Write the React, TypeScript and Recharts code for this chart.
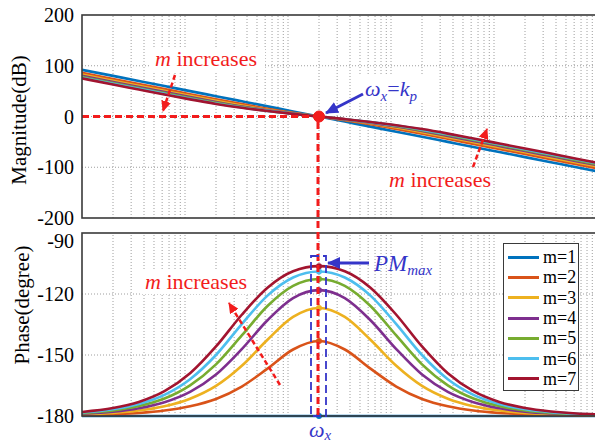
import React from 'react';
import { LineChart, Line, XAxis, YAxis, ReferenceLine, ReferenceDot, Legend } from 'recharts';

// frequency samples (rad/s), omega_x = 200
const freq = [1, 2, 3.56, 6.32, 11.2, 20, 35.6, 63.2, 112, 200, 356, 632, 1125, 2000, 3560, 6320, 11250, 20000, 35600, 63200, 100000];
const omegaX = 200;

const seriesNames = ['m=1', 'm=2', 'm=3', 'm=4', 'm=5', 'm=6', 'm=7'];
const seriesColors = ['#0072BD', '#D95319', '#EDB120', '#7E2F8E', '#77AC30', '#4DBEEE', '#A2142F'];

// magnitude (dB)
const magM1 = [92.0, 80.0, 70.0, 60.0, 50.0, 40.0, 30.0, 20.0, 10.0, 0, -10.0, -20.0, -30.0, -40.0, -50.0, -60.0, -70.0, -80.0, -90.0, -100.0, -108.0];
const magM2 = [86.0, 74.0, 64.0, 54.0, 44.0, 34.1, 24.5, 15.3, 7.2, 0, -7.2, -15.3, -24.5, -34.1, -44.0, -54.0, -64.0, -74.0, -84.0, -94.0, -101.9];
const magM3 = [82.5, 70.5, 60.5, 50.5, 40.6, 30.8, 21.5, 13.2, 6.2, 0, -6.2, -13.2, -21.5, -30.8, -40.6, -50.5, -60.5, -70.5, -80.5, -90.5, -98.4];
const magM4 = [80.0, 68.0, 58.0, 48.0, 38.2, 28.6, 19.7, 12.1, 5.7, 0, -5.7, -12.1, -19.7, -28.6, -38.2, -48.0, -58.0, -68.0, -78.0, -88.0, -95.9];
const magM5 = [78.1, 66.0, 56.1, 46.1, 36.4, 27.0, 18.5, 11.4, 5.5, 0, -5.5, -11.4, -18.5, -27.0, -36.4, -46.1, -56.1, -66.0, -76.0, -86.0, -94.0];
const magM6 = [76.5, 64.5, 54.5, 44.6, 34.9, 25.8, 17.7, 11.1, 5.3, 0, -5.3, -11.1, -17.7, -25.8, -34.9, -44.6, -54.5, -64.5, -74.4, -84.4, -92.4];
const magM7 = [75.1, 63.1, 53.2, 43.3, 33.7, 24.8, 17.2, 10.8, 5.2, 0, -5.2, -10.8, -17.2, -24.8, -33.7, -43.3, -53.2, -63.1, -73.1, -83.1, -91.1];

// phase (degree)
const phM1 = [-180, -180, -180, -180, -180, -180, -180, -180, -180, -180, -180, -180, -180, -180, -180, -180, -180, -180, -180, -180, -180];
const phM2 = [-179.6, -179.1, -178.5, -177.3, -175.2, -171.6, -165.5, -156.7, -147.3, -143.1, -147.3, -156.7, -165.5, -171.6, -175.2, -177.3, -178.5, -179.1, -179.5, -179.7, -179.8];
const phM3 = [-179.2, -178.5, -177.3, -175.2, -171.5, -165.2, -155.3, -142.5, -131.3, -126.9, -131.3, -142.5, -155.3, -165.2, -171.5, -175.2, -177.3, -178.5, -179.1, -179.5, -179.7];
const phM4 = [-178.9, -177.9, -176.2, -173.2, -168.1, -159.6, -147.1, -132.9, -122.0, -118.1, -122.0, -132.9, -147.1, -159.6, -168.1, -173.2, -176.2, -177.9, -178.8, -179.3, -179.6];
const phM5 = [-178.6, -177.3, -175.1, -171.4, -164.9, -154.6, -140.4, -125.9, -116.0, -112.6, -116.0, -125.9, -140.4, -154.6, -164.9, -171.4, -175.1, -177.3, -178.5, -179.1, -179.5];
const phM6 = [-178.3, -176.7, -174.1, -169.6, -161.9, -150.0, -134.8, -120.8, -111.9, -108.9, -111.9, -120.8, -134.8, -150.0, -161.9, -169.6, -174.1, -176.7, -178.1, -178.9, -179.3];
const phM7 = [-178.0, -176.1, -173.1, -167.8, -159.0, -145.8, -130.2, -116.9, -108.8, -106.3, -108.8, -116.9, -130.2, -145.8, -159.0, -167.8, -173.1, -176.1, -177.8, -178.8, -179.2];

const magTicks = [-200, -100, 0, 100, 200];
const phaseTicks = [-180, -150, -120, -90];

const magSeries = [magM1, magM2, magM3, magM4, magM5, magM6, magM7];
const phaseSeries = [phM1, phM2, phM3, phM4, phM5, phM6, phM7];

// log grid: 1..9 in every decade
const logTicks: number[] = [];
for (const d of [1, 10, 100, 1000, 10000]) for (let k = 1; k < 10; k++) logTicks.push(d * k);
logTicks.push(100000);
const gridX = logTicks.filter((t) => t > 1 && t < 100000);

const buildRows = (series: number[][]) =>
  freq.map((f, i) => {
    const row: Record<string, number> = { freq: f };
    series.forEach((s, j) => { row[`m${j + 1}`] = s[i]; });
    return row;
  });

const magData = buildRows(magSeries);
const phaseData = buildRows(phaseSeries);

const SERIF = '"Liberation Serif", "Times New Roman", serif';
const RED = '#f21c1c';
const BLUE = '#3535c8';
const FRAME = '#3a3a3a';
const GRID = '#9e9e9e';

const YTick = (props: any) => {
  const v = props.payload.value;
  return (
    <text x={props.x} y={props.y} dy={v === -90 ? 15 : 7} textAnchor="end" fontFamily={SERIF} fontSize={20} fill="#000">
      {v}
    </text>
  );
};

const renderLegend = (props: any) => {
  const items = props.payload || [];
  return (
    <div style={{ width: 76, height: 148, boxSizing: 'border-box', border: `1.5px solid ${FRAME}`, background: '#fff', padding: '3px 0 0 4px' }}>
      {items.map((it: any) => (
        <div key={it.value} style={{ display: 'flex', alignItems: 'center', height: 20.3 }}>
          <span style={{ display: 'inline-block', width: 31, height: 3, background: it.color, marginRight: 4 }} />
          <span style={{ fontFamily: SERIF, fontSize: 18, color: '#000', lineHeight: '20px' }}>{it.value}</span>
        </div>
      ))}
    </div>
  );
};

const Arrow = ({ x1, y1, x2, y2, color, dashed, width, marker }: any) => (
  <line x1={x1} y1={y1} x2={x2} y2={y2} stroke={color} strokeWidth={width} strokeDasharray={dashed ? '5 3' : undefined} markerEnd={`url(#${marker})`} />
);

const Overlay = () => (
  <svg width={595} height={443} style={{ position: 'absolute', left: 0, top: 0, pointerEvents: 'none' }} fontFamily={SERIF}>
    <defs>
      <marker id="headRed" markerUnits="userSpaceOnUse" markerWidth={12} markerHeight={10} refX={10} refY={5} orient="auto">
        <path d="M0,0 L11,5 L0,10 Z" fill={RED} />
      </marker>
      <marker id="headBlue" markerUnits="userSpaceOnUse" markerWidth={14} markerHeight={12} refX={12} refY={6} orient="auto">
        <path d="M0,0 L13,6 L0,12 Z" fill={BLUE} />
      </marker>
    </defs>

    {/* plot frames */}
    <rect x={82} y={15} width={515} height={203} fill="none" stroke={FRAME} strokeWidth={1.6} />
    <rect x={82} y={233} width={515} height={183} fill="none" stroke={FRAME} strokeWidth={1.6} />

    {/* axis titles */}
    <text transform="translate(26,120) rotate(-90)" textAnchor="middle" fontSize={21} fill="#000">Magnitude(dB)</text>
    <text transform="translate(29,305) rotate(-90)" textAnchor="middle" fontSize={21} fill="#000">Phase(degree)</text>

    {/* omega_x marker line through both panels */}
    <line x1={318} y1={122} x2={318} y2={416} stroke={RED} strokeWidth={3} strokeDasharray="7 4" />

    {/* top left: m increases */}
    <rect x={150} y={48} width={115} height={24} fill="#fff" />
    <text x={155} y={66} fontSize={22} fill={RED}>
      <tspan fontStyle="italic">m</tspan> increases
    </text>
    <Arrow x1={175} y1={75} x2={163} y2={111} color={RED} dashed width={2.5} marker="headRed" />

    {/* omega_x = k_p */}
    <rect x={358} y={74} width={66} height={28} fill="#fff" />
    <text x={365} y={96} fontSize={22} fill={BLUE}>
      <tspan fontStyle="italic">ω</tspan>
      <tspan fontStyle="italic" fontSize={15} dy={5}>x</tspan>
      <tspan dy={-5}>=</tspan>
      <tspan fontStyle="italic">k</tspan>
      <tspan fontStyle="italic" fontSize={15} dy={5}>p</tspan>
    </text>
    <Arrow x1={363} y1={94} x2={326} y2={113} color={BLUE} width={3} marker="headBlue" />

    {/* top right: m increases */}
    <rect x={359} y={168} width={134} height={22} fill="#fff" />
    <text x={389} y={187} fontSize={22} fill={RED}>
      <tspan fontStyle="italic">m</tspan> increases
    </text>
    <Arrow x1={473} y1={167} x2={487} y2={129} color={RED} dashed width={2.5} marker="headRed" />

    {/* bottom left: m increases */}
    <rect x={140} y={271} width={115} height={23} fill="#fff" />
    <text x={145} y={289} fontSize={22} fill={RED}>
      <tspan fontStyle="italic">m</tspan> increases
    </text>
    <Arrow x1={280} y1={385} x2={229} y2={303} color={RED} dashed width={2.5} marker="headRed" />

    {/* PM max */}
    <rect x={311} y={256} width={15} height={160} fill="none" stroke={BLUE} strokeWidth={1.8} strokeDasharray="8 4" />
    <Arrow x1={369} y1={263} x2={328} y2={263} color={BLUE} width={3} marker="headBlue" />
    <text x={374} y={271} fontSize={23} fill={BLUE} fontStyle="italic">
      PM<tspan fontSize={15} dy={4}>max</tspan>
    </text>

    {/* omega_x label under axis */}
    <text x={309} y={437} fontSize={22} fill={BLUE} fontStyle="italic">
      ω<tspan fontSize={15} dy={3}>x</tspan>
    </text>
  </svg>
);

const gridLines = (yTicks: number[]) => [
  ...gridX.map((t) => <ReferenceLine key={`gx${t}`} x={t} stroke={GRID} strokeWidth={1} strokeDasharray="1 2" />),
  ...yTicks.slice(1, -1).map((t) => <ReferenceLine key={`gy${t}`} y={t} stroke={GRID} strokeWidth={1} strokeDasharray="1 2" />),
];

export default function App() {
  return (
    <div style={{ position: 'absolute', left: 0, top: 0, width: 595, height: 443, background: '#fff', overflow: 'hidden' }}>
      <div style={{ position: 'absolute', left: 0, top: 0 }}>
        <LineChart width={597} height={232} data={magData} margin={{ top: 15, right: 0, bottom: 0, left: 0 }}>
          <XAxis dataKey="freq" type="number" scale="log" domain={[1, 100000]} ticks={logTicks} interval={0} tick={false} tickLine={false} axisLine={false} height={14} allowDataOverflow />
          <YAxis type="number" domain={[-200, 200]} ticks={magTicks} interval={0} width={82} tick={<YTick />} tickLine={false} axisLine={false} allowDataOverflow />
          {gridLines(magTicks)}
          {seriesNames.map((n, j) => (
            <Line key={n} dataKey={`m${j + 1}`} name={n} type="monotone" stroke={seriesColors[j]} strokeWidth={2.6} dot={false} isAnimationActive={false} />
          ))}
          <ReferenceLine segment={[{ x: 1, y: 0 }, { x: omegaX, y: 0 }]} stroke={RED} strokeWidth={3} strokeDasharray="7 4" />
          <ReferenceDot x={omegaX} y={0} r={5.5} fill={RED} stroke={RED} />
        </LineChart>
      </div>
      <div style={{ position: 'absolute', left: 0, top: 225 }}>
        <LineChart width={597} height={210} data={phaseData} margin={{ top: 8, right: 0, bottom: 0, left: 0 }}>
          <XAxis dataKey="freq" type="number" scale="log" domain={[1, 100000]} ticks={logTicks} interval={0} tick={false} tickLine={false} axisLine={false} height={19} allowDataOverflow />
          <YAxis type="number" domain={[-180, -90]} ticks={phaseTicks} interval={0} width={82} tick={<YTick />} tickLine={false} axisLine={false} />
          {gridLines(phaseTicks)}
          {seriesNames.map((n, j) => (
            <Line
              key={n}
              dataKey={`m${j + 1}`}
              name={n}
              type="monotone"
              stroke={seriesColors[j]}
              strokeWidth={2.6}
              isAnimationActive={false}
              dot={(p: any) =>
                p.payload && p.payload.freq === omegaX
                  ? <circle key={p.key} cx={p.cx} cy={p.cy} r={3} fill={seriesColors[j]} />
                  : <g key={p.key} />
              }
            />
          ))}
          <Legend layout="vertical" align="center" verticalAlign="middle" wrapperStyle={{ left: 503, top: 18, width: 76 }} content={renderLegend} />
        </LineChart>
      </div>
      <Overlay />
    </div>
  );
}
